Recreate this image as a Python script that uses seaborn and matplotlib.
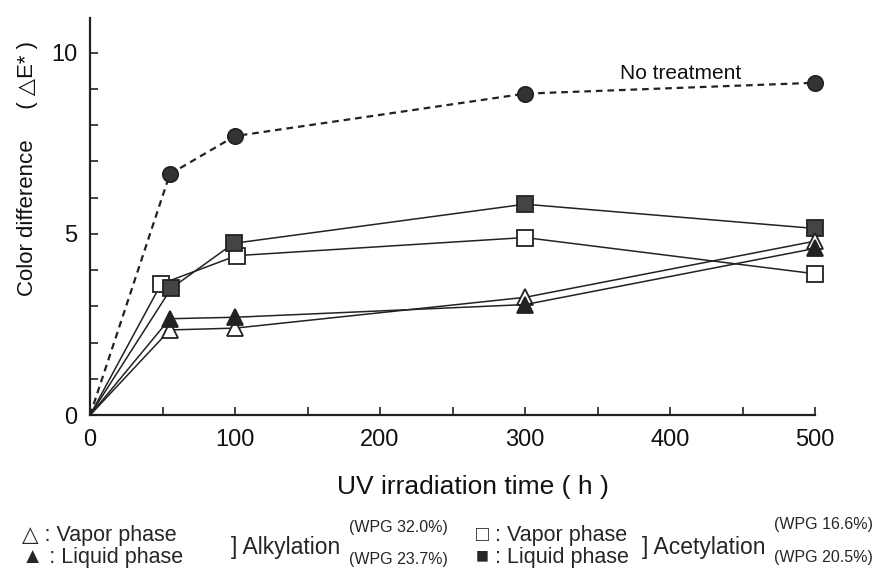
import matplotlib
matplotlib.use("Agg")
import matplotlib.pyplot as plt
import seaborn as sns
from matplotlib.ticker import MultipleLocator

# data
hours_none = [0, 55, 100, 300, 500]
dE_none = [0, 6.65, 7.7, 8.87, 9.17]

hours_acet_vapor = [0, 49, 101, 300, 500]
dE_acet_vapor = [0, 3.62, 4.4, 4.9, 3.9]

hours_acet_liquid = [0, 56, 99, 300, 500]
dE_acet_liquid = [0, 3.5, 4.74, 5.82, 5.15]

hours_alk_vapor = [0, 55, 100, 300, 500]
dE_alk_vapor = [0, 2.35, 2.4, 3.25, 4.8]

hours_alk_liquid = [0, 55, 100, 300, 500]
dE_alk_liquid = [0, 2.66, 2.7, 3.05, 4.6]

x_ticks = [0, 100, 200, 300, 400, 500]
y_ticks = [0, 5, 10]

sns.set_style("white")
plt.rcParams['font.family'] = ['Liberation Sans', 'DejaVu Sans']

fig = plt.figure(figsize=(8.83, 5.71), dpi=100)
ax = fig.add_axes([0.102, 0.273, 0.821, 0.695])

ink = "#222222"
common = dict(ax=ax, color=ink, linewidth=1.1, markersize=11, markeredgecolor=ink,
              markeredgewidth=1.3, legend=False)

sns.lineplot(x=hours_none, y=dE_none, marker="o", markerfacecolor="#333333",
             linestyle=(0, (3, 2.2)), **{**common, "linewidth": 1.6})
sns.lineplot(x=hours_acet_vapor, y=dE_acet_vapor, marker="s", markerfacecolor="white", **common)
sns.lineplot(x=hours_acet_liquid, y=dE_acet_liquid, marker="s", markerfacecolor="#444444", **common)
sns.lineplot(x=hours_alk_vapor, y=dE_alk_vapor, marker="^", markerfacecolor="white", **common)
sns.lineplot(x=hours_alk_liquid, y=dE_alk_liquid, marker="^", markerfacecolor=ink, **common)

# no marker at the origin, markers at the edge not clipped
for line in ax.lines:
    line.set_markevery(list(range(1, len(line.get_xdata()))))
    line.set_clip_on(False)

ax.text(407, 9.42, "No treatment", fontsize=15, color="#111111", ha="center", va="center")

ax.set_xlim(0, 500)
ax.set_ylim(0, 10.95)
ax.set_xticks(x_ticks)
ax.set_yticks(y_ticks)
ax.xaxis.set_minor_locator(MultipleLocator(50))
ax.yaxis.set_minor_locator(MultipleLocator(1))
ax.tick_params(which="both", bottom=True, left=True, direction="in", length=6,
               width=1.2, color=ink)
ax.tick_params(which="major", labelsize=17, labelcolor="#111111")
ax.tick_params(axis="x", pad=10)
ax.tick_params(axis="y", pad=9)
sns.despine(ax=ax)
for s in ("left", "bottom"):
    ax.spines[s].set_linewidth(1.6)
    ax.spines[s].set_color(ink)

ax.set_xlabel("UV irradiation time ( h )", fontsize=19, color="#111111", va="center")
ax.xaxis.set_label_coords(0.528, -0.181)
ax.set_ylabel("Color difference     ( △E* )", fontsize=16, color="#111111", va="center")
ax.yaxis.set_label_coords(-0.086, 0.622)

# bottom legend as text
fs = 15.5
r1, r2 = 0.063, 0.024
fig.text(0.025, r1, "△ : Vapor phase", fontsize=fs, va="center", ha="left")
fig.text(0.025, r2, "▲ : Liquid phase", fontsize=fs, va="center", ha="left")
fig.text(0.262, 0.042, "] Alkylation", fontsize=fs + 1, va="center", ha="left")
fig.text(0.395, 0.076, "(WPG 32.0%)", fontsize=11.5, va="center", ha="left")
fig.text(0.395, 0.020, "(WPG 23.7%)", fontsize=11.5, va="center", ha="left")
fig.text(0.539, r1, "□ : Vapor phase", fontsize=fs, va="center", ha="left")
fig.text(0.539, r2, "■ : Liquid phase", fontsize=fs, va="center", ha="left")
fig.text(0.727, 0.042, "] Acetylation", fontsize=fs + 1, va="center", ha="left")
fig.text(0.877, 0.082, "(WPG 16.6%)", fontsize=11.5, va="center", ha="left")
fig.text(0.877, 0.024, "(WPG 20.5%)", fontsize=11.5, va="center", ha="left")

fig.savefig("out.png", dpi=100)
